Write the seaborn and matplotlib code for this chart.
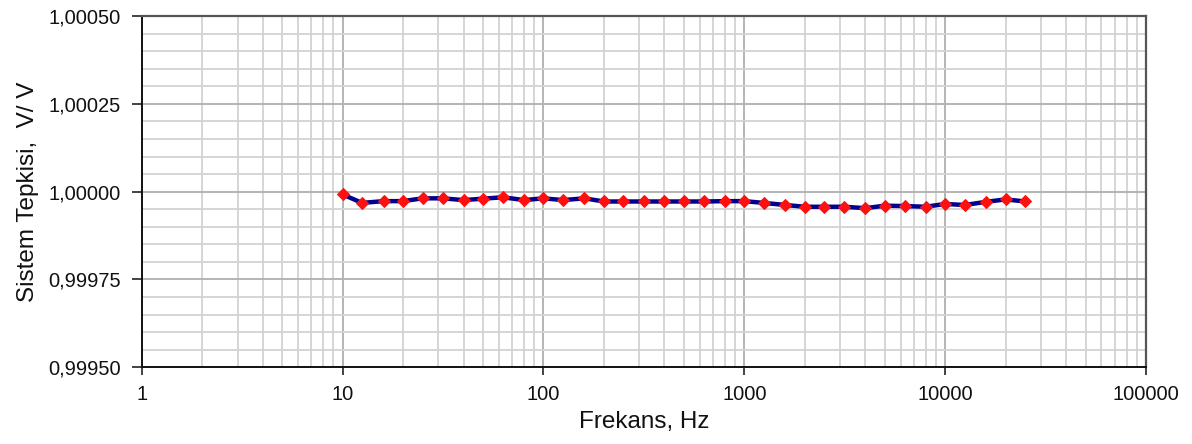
import matplotlib
matplotlib.use("Agg")
import matplotlib.pyplot as plt
import matplotlib.ticker as mticker
import numpy as np
import pandas as pd
import seaborn as sns

# One-third-octave test frequencies (Hz) and measured system response (V/V)
frequencies = [10, 12.5, 16, 20, 25, 31.5, 40, 50, 63, 80,
               100, 125, 160, 200, 250, 315, 400, 500, 630, 800,
               1000, 1250, 1600, 2000, 2500, 3150, 4000, 5000, 6300, 8000,
               10000, 12500, 16000, 20000, 25000]
response = [0.999992, 0.999968, 0.999973, 0.999973, 0.999981, 0.999981, 0.999976, 0.999980, 0.999984, 0.999976,
            0.999981, 0.999976, 0.999981, 0.999972, 0.999972, 0.999972, 0.999972, 0.999972, 0.999972, 0.999973,
            0.999973, 0.999968, 0.999962, 0.999957, 0.999957, 0.999957, 0.999953, 0.999960, 0.999959, 0.999957,
            0.999965, 0.999962, 0.999971, 0.999978, 0.999972]

y_ticks = [0.99950, 0.99975, 1.00000, 1.00025, 1.00050]
x_ticks = [1, 10, 100, 1000, 10000, 100000]

df = pd.DataFrame({"Frekans": frequencies, "Tepki": response})

sns.set_theme(style="white")
plt.rcParams["font.family"] = ["Liberation Sans", "DejaVu Sans"]

fig = plt.figure(figsize=(11.92, 4.44), dpi=100)
ax = fig.add_axes([0.1189, 0.1727, 0.8425, 0.7913])

sns.lineplot(data=df, x="Frekans", y="Tepki", ax=ax, color="#00008e",
             linewidth=3.2, marker="D", markersize=6.3,
             markerfacecolor="#ff1010", markeredgecolor="#ff1010",
             zorder=5)

ax.set_xscale("log")
ax.set_xlim(1, 100000)
ax.set_ylim(0.99950, 1.00050)

ax.xaxis.set_major_locator(mticker.FixedLocator(x_ticks))
ax.xaxis.set_major_formatter(mticker.FuncFormatter(lambda v, p: f"{v:.0f}"))
ax.xaxis.set_minor_locator(mticker.LogLocator(base=10, subs=np.arange(2, 10), numticks=20))
ax.xaxis.set_minor_formatter(mticker.NullFormatter())

ax.yaxis.set_major_locator(mticker.FixedLocator(y_ticks))
ax.yaxis.set_major_formatter(mticker.FuncFormatter(lambda v, p: f"{v:.5f}".replace(".", ",")))
ax.yaxis.set_minor_locator(mticker.MultipleLocator(0.00005))

ax.grid(which="major", color="#b4b4b4", linewidth=1.4)
ax.grid(which="minor", color="#d2d2d2", linewidth=1.3)
ax.set_axisbelow(True)

ax.tick_params(axis="both", which="major", direction="out", width=1.2,
               color="#222222", labelsize=14.5, labelcolor="#111111",
               left=True, bottom=True)
ax.tick_params(axis="both", which="minor", length=0)
ax.tick_params(axis="y", which="major", length=7, pad=8)
ax.tick_params(axis="x", which="major", length=6, pad=7)

for side in ("left", "bottom"):
    ax.spines[side].set_color("#111111")
    ax.spines[side].set_linewidth(1.4)
for side in ("top", "right"):
    ax.spines[side].set_visible(True)
    ax.spines[side].set_color("#555555")
    ax.spines[side].set_linewidth(1.6)

ax.set_xlabel("Frekans, Hz", fontsize=17.5, color="#111111", labelpad=5)
ax.set_ylabel("Sistem Tepkisi,  V/ V", fontsize=17.5, color="#111111", labelpad=7)

fig.savefig("out.png", dpi=100, facecolor="white")
